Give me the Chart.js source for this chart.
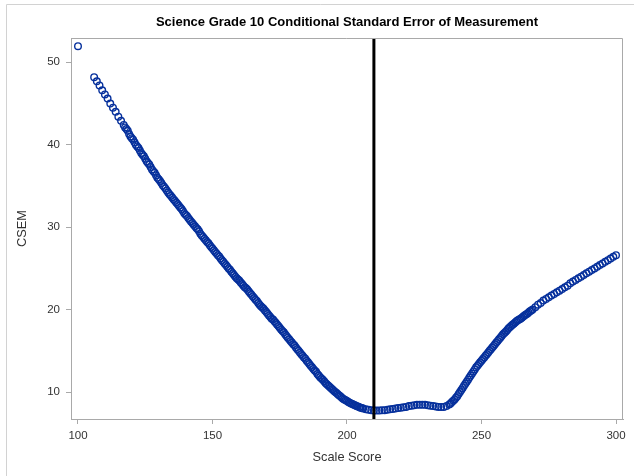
<!DOCTYPE html>
<html>
<head>
<meta charset="utf-8">
<script src="https://cdn.jsdelivr.net/npm/chart.js@4.4.1/dist/chart.umd.min.js"></script>
<style>
  html, body { margin: 0; padding: 0; background: #fff; }
  #wrap { width: 634px; height: 476px; }
</style>
</head>
<body>
<div id="wrap"><canvas id="csemCanvas" width="634" height="476"></canvas></div>
<script>
// === DONNÉES ===
const TITRE = "Science Grade 10 Conditional Standard Error of Measurement";
const SCORES = [
  100,
  106, 107, 108, 109, 110, 111, 112, 113, 114, 115,
  116, 117, 118, 119, 120, 121, 122, 123, 124, 125,
  126, 127, 128, 129, 130, 131, 132, 133, 134, 135,
  136, 137, 138, 139, 140, 141, 142, 143, 144, 145,
  146, 147, 148, 149, 150, 151, 152, 153, 154, 155,
  156, 157, 158, 159, 160, 161, 162, 163, 164, 165,
  166, 167, 168, 169, 170, 171, 172, 173, 174, 175,
  176, 177, 178, 179, 180, 181, 182, 183, 184, 185,
  186, 187, 188, 189, 190, 191, 192, 193, 194, 195,
  196, 197, 198, 199, 200, 201, 202, 203, 204, 205,
  206, 207, 208, 209, 210, 211, 212, 213, 214, 215,
  216, 217, 218, 219, 220, 221, 222, 223, 224, 225,
  226, 227, 228, 229, 230, 231, 232, 233, 234, 235,
  236, 237, 238, 239, 240, 241, 242, 243, 244, 245,
  246, 247, 248, 249, 250, 251, 252, 253, 254, 255,
  256, 257, 258, 259, 260, 261, 262, 263, 264, 265,
  266, 267, 268, 269, 270, 271, 272, 273, 274, 275,
  276, 277, 278, 279, 280, 281, 282, 283, 284, 285,
  286, 287, 288, 289, 290, 291, 292, 293, 294, 295,
  296, 297, 298, 299, 300
];
const CSEM = [
  51.96,
  48.2, 47.7, 47.2, 46.6, 46.1, 45.6, 45.0, 44.5, 44.0, 43.4,
  42.9, 42.4, 41.9, 41.3, 40.8, 40.3, 39.8, 39.3, 38.8, 38.3,
  37.8, 37.3, 36.8, 36.3, 35.8, 35.35, 34.9, 34.45, 34.0, 33.6,
  33.2, 32.8, 32.4, 31.95, 31.5, 31.1, 30.7, 30.3, 29.9, 29.5,
  29.0, 28.6, 28.2, 27.8, 27.4, 27.0, 26.6, 26.2, 25.8, 25.4,
  25.0, 24.6, 24.2, 23.8, 23.5, 23.1, 22.7, 22.4, 22.0, 21.6,
  21.2, 20.8, 20.4, 20.1, 19.7, 19.3, 18.9, 18.6, 18.2, 17.8,
  17.4, 17.0, 16.6, 16.2, 15.8, 15.4, 15.0, 14.6, 14.2, 13.8,
  13.4, 13.0, 12.6, 12.2, 11.8, 11.5, 11.1, 10.8, 10.5, 10.2,
  9.9, 9.6, 9.35, 9.1, 8.9, 8.7, 8.55, 8.4, 8.25, 8.1,
  8.0, 7.9, 7.85, 7.8, 7.75, 7.75, 7.75, 7.8, 7.8, 7.85,
  7.9, 7.95, 8.0, 8.05, 8.1, 8.15, 8.2, 8.3, 8.35, 8.4,
  8.45, 8.45, 8.45, 8.45, 8.4, 8.35, 8.3, 8.25, 8.2, 8.2,
  8.2, 8.3, 8.5, 8.8, 9.1, 9.5, 10.0, 10.5, 11.0, 11.5,
  12.0, 12.5, 13.0, 13.4, 13.8, 14.2, 14.6, 15.0, 15.4, 15.8,
  16.2, 16.6, 17.0, 17.3, 17.7, 18.0, 18.3, 18.6, 18.8, 19.0,
  19.3, 19.5, 19.8, 20.0, 20.3, 20.6, 20.8, 21.1, 21.3, 21.5,
  21.7, 21.9, 22.1, 22.3, 22.5, 22.7, 22.9, 23.2, 23.4, 23.6,
  23.8, 24.0, 24.2, 24.4, 24.6, 24.8, 25.0, 25.2, 25.4, 25.6,
  25.8, 26.0, 26.2, 26.4, 26.6
];
// Scores intermédiaires (zones denses de la courbe)
const SCORES_INTER = [
  117.5, 118.5, 119.5, 120.5, 121.5, 122.5, 123.5, 124.5, 125.5, 126.5,
  127.5, 128.5, 129.5, 130.5, 131.5, 132.5, 133.5, 134.5, 135.5, 136.5,
  137.5, 138.5, 139.5, 140.5, 141.5, 142.5, 143.5, 144.5, 145.5, 146.5,
  147.5, 148.5, 149.5, 150.5, 151.5, 152.5, 153.5, 154.5, 155.5, 156.5,
  157.5, 158.5, 159.5, 160.5, 161.5, 162.5, 163.5, 164.5, 165.5, 166.5,
  167.5, 168.5, 169.5, 170.5, 171.5, 172.5, 173.5, 174.5, 175.5, 176.5,
  177.5, 178.5, 179.5, 180.5, 181.5, 182.5, 183.5, 184.5, 185.5, 186.5,
  187.5, 188.5, 189.5, 190.5, 191.5, 192.5, 193.5, 194.5, 195.5, 196.5,
  197.5, 198.5, 199.5, 200.5, 201.5, 202.5, 203.5, 204.5, 205.5,
  238.5, 239.5, 240.5, 241.5, 242.5, 243.5, 244.5, 245.5, 246.5, 247.5,
  248.5, 249.5, 250.5, 251.5, 252.5, 253.5, 254.5, 255.5, 256.5, 257.5,
  258.5, 259.5, 260.5, 261.5, 262.5, 263.5, 264.5, 265.5, 266.5, 267.5,
  268.5
];
const CSEM_INTER = [
  42.1, 41.7, 41.0, 40.6, 40.0, 39.6, 39.0, 38.6, 38.0, 37.6,
  37.0, 36.6, 36.0, 35.6, 35.1, 34.7, 34.2, 33.8, 33.4, 33.0,
  32.6, 32.2, 31.7, 31.35, 30.9, 30.5, 30.1, 29.75, 29.2, 28.8,
  28.4, 28.05, 27.6, 27.2, 26.8, 26.45, 26.0, 25.6, 25.2, 24.85,
  24.4, 24.0, 23.65, 23.3, 22.9, 22.6, 22.2, 21.8, 21.4, 21.05,
  20.6, 20.25, 19.9, 19.5, 19.1, 18.8, 18.4, 18.0, 17.6, 17.25,
  16.8, 16.4, 16.0, 15.65, 15.2, 14.8, 14.4, 14.05, 13.6, 13.2,
  12.8, 12.45, 12.0, 11.65, 11.3, 10.95, 10.65, 10.35, 10.05, 9.75,
  9.5, 9.2, 9.0, 8.8, 8.6, 8.45, 8.3, 8.2, 8.05,
  8.6, 8.95, 9.3, 9.75, 10.25, 10.75, 11.25, 11.75, 12.25, 12.75,
  13.2, 13.6, 14.0, 14.4, 14.8, 15.2, 15.6, 16.0, 16.4, 16.8,
  17.15, 17.5, 17.85, 18.15, 18.45, 18.7, 18.9, 19.15, 19.4, 19.65,
  19.9
];
const SCORE_REF = 210;            // ligne verticale
const X_TICKS = [100, 150, 200, 250, 300];
const Y_TICKS = [10, 20, 30, 40, 50];
const X_MIN = 97.4, X_MAX = 302.6;
const Y_MIN = 6.73, Y_MAX = 52.95;

const POLICE = "'Liberation Sans', Arial, Helvetica, sans-serif";
const BLEU = '#06309c';
const GRIS_AXE = '#a9a9a9';

// Cadre, titre et ligne de référence
const cadrePlugin = {
    id: 'cadre',
    beforeDraw(chart) {
        const ctx = chart.ctx;
        ctx.save();
        ctx.strokeStyle = '#d2d2d2';
        ctx.lineWidth = 1;
        ctx.beginPath();
        ctx.moveTo(6.5, 476);
        ctx.lineTo(6.5, 4.5);
        ctx.lineTo(634, 4.5);
        ctx.stroke();
        ctx.restore();
    },
    afterDatasetsDraw(chart) {
        const { ctx, chartArea, scales } = chart;
        const x = scales.x.getPixelForValue(SCORE_REF);
        ctx.save();
        ctx.strokeStyle = '#000';
        ctx.lineWidth = 3;
        ctx.beginPath();
        ctx.moveTo(x, chartArea.top);
        ctx.lineTo(x, chartArea.bottom);
        ctx.stroke();
        ctx.restore();
    },
    afterDraw(chart) {
        const { ctx, chartArea } = chart;
        ctx.save();
        // bords haut et droit du cadre
        ctx.strokeStyle = GRIS_AXE;
        ctx.lineWidth = 1;
        ctx.beginPath();
        ctx.moveTo(chartArea.left, chartArea.top + 0.5);
        ctx.lineTo(chartArea.right - 0.5, chartArea.top + 0.5);
        ctx.lineTo(chartArea.right - 0.5, chartArea.bottom);
        ctx.stroke();
        // titre
        ctx.fillStyle = '#000';
        ctx.font = "bold 13px " + POLICE;
        ctx.textAlign = 'center';
        ctx.textBaseline = 'middle';
        ctx.fillText(TITRE, (chartArea.left + chartArea.right) / 2, 22);
        ctx.restore();
    }
};

const points = SCORES.map((s, i) => ({ x: s, y: CSEM[i] }))
    .concat(SCORES_INTER.map((s, i) => ({ x: s, y: CSEM_INTER[i] })));

const ctx = document.getElementById('csemCanvas').getContext('2d');
new Chart(ctx, {
    type: 'scatter',
    data: {
        datasets: [{
            label: 'CSEM',
            data: points,
            borderColor: BLEU,
            backgroundColor: 'rgba(0,0,0,0)',
            pointRadius: 3.3,
            pointBorderWidth: 1.4,
            pointHoverRadius: 3.3
        }]
    },
    options: {
        responsive: false,
        animation: false,
        events: [],
        layout: { padding: { top: 38, right: 11, left: 0, bottom: 0 } },
        plugins: {
            legend: { display: false },
            tooltip: { enabled: false },
            title: { display: false }
        },
        scales: {
            x: {
                type: 'linear',
                min: X_MIN,
                max: X_MAX,
                afterBuildTicks: (scale) => { scale.ticks = X_TICKS.map(v => ({ value: v })); },
                afterFit: (scale) => { scale.height = 57; },
                grid: { drawOnChartArea: false, drawTicks: true, tickLength: 5, color: GRIS_AXE },
                border: { display: true, color: GRIS_AXE },
                ticks: { color: '#333', padding: 5, font: { family: POLICE, size: 11.5 } },
                title: {
                    display: true,
                    text: 'Scale Score',
                    color: '#333',
                    font: { family: POLICE, size: 12.8 },
                    padding: { top: 0, bottom: 10.5 }
                }
            },
            y: {
                type: 'linear',
                min: Y_MIN,
                max: Y_MAX,
                afterBuildTicks: (scale) => { scale.ticks = Y_TICKS.map(v => ({ value: v })); },
                afterFit: (scale) => { scale.width = 71; },
                grid: { drawOnChartArea: false, drawTicks: true, tickLength: 5, color: GRIS_AXE },
                border: { display: true, color: GRIS_AXE },
                ticks: { color: '#333', padding: 6, font: { family: POLICE, size: 11.5 } },
                title: {
                    display: true,
                    text: 'CSEM',
                    color: '#333',
                    font: { family: POLICE, size: 12.8 },
                    padding: { top: 15, bottom: 0 }
                }
            }
        }
    },
    plugins: [cadrePlugin]
});
</script>
</body>
</html>
